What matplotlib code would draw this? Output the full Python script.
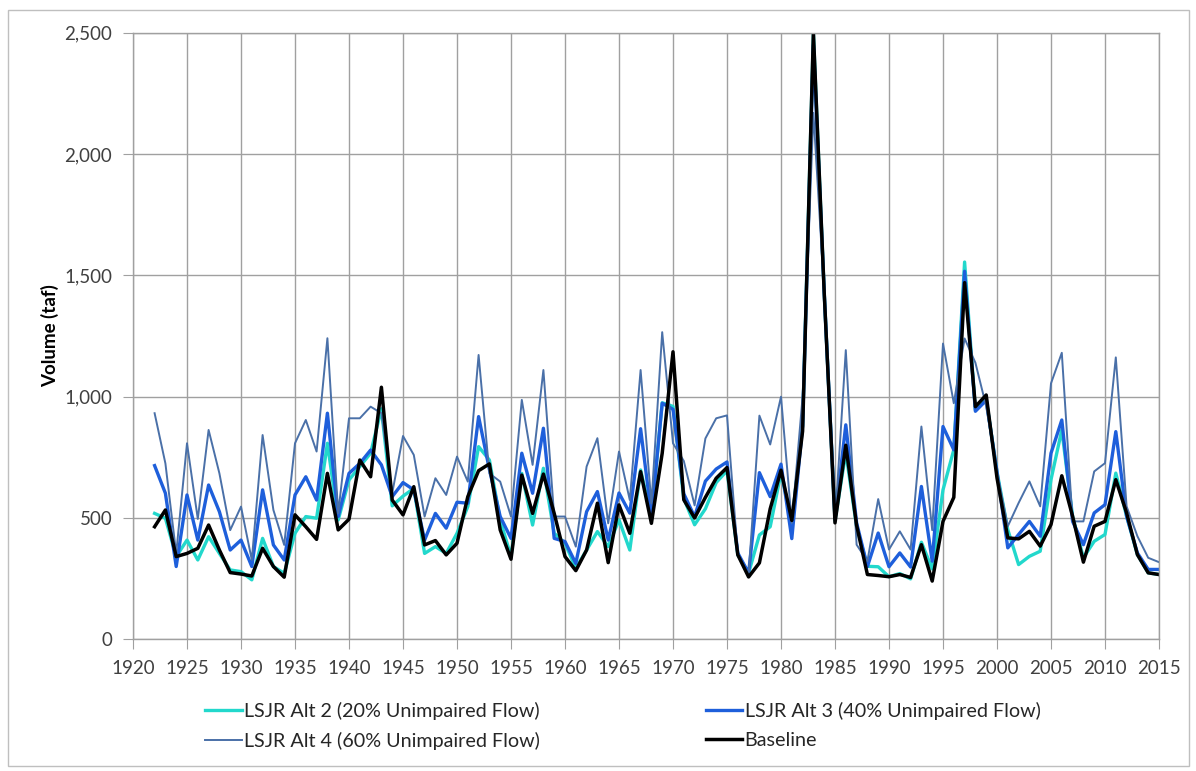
import matplotlib
matplotlib.use("Agg")
import matplotlib.pyplot as plt
from matplotlib.patches import Rectangle
from matplotlib.ticker import FuncFormatter

plt.rcParams['font.family'] = ['Lato', 'DejaVu Sans']

# water years 1922-2015
years = list(range(1922, 2016))

# volumes (taf)
alt2 = [519, 499, 341, 409, 327, 423, 354, 286, 279, 245,
        416, 300, 272, 437, 506, 499, 808, 492, 657, 712,
        767, 950, 550, 590, 622, 354, 382, 354, 437, 547,
        794, 739, 492, 341, 684, 471, 705, 437, 396, 293,
        368, 444, 382, 492, 368, 698, 506, 975, 960, 580,
        472, 538, 646, 695, 348, 273, 430, 464, 687, 480,
        880, 2500, 1430, 489, 770, 464, 301, 299, 258, 271,
        249, 400, 290, 616, 781, 1555, 945, 990, 690, 452,
        308, 342, 363, 658, 863, 507, 336, 404, 432, 685,
        507, 349, 274, 267]

alt3 = [716, 602, 300, 595, 409, 636, 526, 368, 409, 300,
        616, 389, 327, 595, 670, 574, 932, 506, 684, 725,
        780, 719, 588, 646, 616, 409, 519, 458, 565, 561,
        918, 700, 506, 416, 767, 602, 870, 416, 403, 313,
        526, 609, 409, 603, 520, 868, 510, 973, 948, 600,
        505, 652, 702, 731, 356, 273, 687, 588, 722, 415,
        880, 2450, 1430, 497, 884, 480, 300, 438, 299, 356,
        298, 630, 322, 877, 781, 1517, 940, 985, 690, 377,
        432, 486, 425, 767, 904, 486, 390, 521, 555, 856,
        507, 356, 288, 288]

alt4 = [932, 725, 354, 808, 496, 863, 684, 450, 547, 327,
        842, 533, 389, 808, 904, 774, 1241, 519, 911, 911,
        959, 932, 602, 838, 760, 506, 664, 595, 753, 650,
        1172, 684, 650, 506, 987, 719, 1110, 506, 506, 382,
        712, 829, 478, 774, 574, 1110, 560, 1266, 808, 735,
        552, 828, 911, 923, 348, 265, 922, 803, 1000, 480,
        1000, 2170, 1430, 480, 1192, 390, 322, 578, 370, 445,
        370, 877, 450, 1219, 973, 1240, 1140, 960, 690, 466,
        562, 651, 548, 1055, 1181, 486, 486, 692, 726, 1162,
        548, 425, 336, 318]

baseline = [464, 533, 341, 354, 375, 471, 368, 275, 269, 261,
            375, 300, 256, 513, 464, 412, 684, 451, 495, 739,
            670, 1039, 574, 513, 629, 389, 407, 348, 396, 588,
            695, 723, 451, 330, 677, 519, 681, 519, 341, 283,
            368, 561, 316, 554, 437, 691, 478, 767, 1185, 575,
            500, 585, 664, 708, 348, 257, 315, 538, 697, 490,
            858, 2500, 1430, 480, 800, 470, 267, 263, 258, 267,
            255, 390, 240, 486, 585, 1470, 959, 1007, 665, 418,
            414, 445, 384, 473, 674, 507, 318, 466, 486, 658,
            521, 349, 274, 267]

labels = ["LSJR Alt 2 (20% Unimpaired Flow)",
          "LSJR Alt 3 (40% Unimpaired Flow)",
          "LSJR Alt 4 (60% Unimpaired Flow)",
          "Baseline"]

fig = plt.figure(figsize=(11.96, 7.71), dpi=100)
ax = fig.add_axes([133 / 1196, 1 - 639.3 / 771, (1159 - 133) / 1196, (639.3 - 32.8) / 771])

# chart area border like the spreadsheet export
fig.patches.append(Rectangle((8 / 1196, 1 - 766 / 771), 1181 / 1196, 756 / 771,
                             transform=fig.transFigure, fill=False,
                             edgecolor='#BFBFBF', lw=1))

l2, = ax.plot(years, alt2, color='#22D8CC', lw=2.4, label=labels[0])
l3, = ax.plot(years, alt3, color='#1E5FDB', lw=2.4, label=labels[1])
l4, = ax.plot(years, alt4, color='#4A70A8', lw=1.4, label=labels[2])
lb, = ax.plot(years, baseline, color='black', lw=2.5, label=labels[3])

ax.set_xlim(1920, 2015)
ax.set_ylim(0, 2500)
ax.set_xticks(range(1920, 2016, 5))
ax.set_yticks(range(0, 2501, 500))
ax.yaxis.set_major_formatter(FuncFormatter(lambda v, p: "{:,}".format(int(v))))

grid_c = '#A0A0A0'
ax.grid(True, color=grid_c, lw=1)
ax.set_axisbelow(True)
for s in ax.spines.values():
    s.set_color(grid_c)
    s.set_linewidth(1)
ax.tick_params(axis='both', direction='out', length=7, color=grid_c,
               labelsize=13.5, labelcolor='#404040')
ax.tick_params(axis='y', pad=8)
ax.tick_params(axis='x', pad=8)

ax.set_ylabel("Volume (taf)", fontsize=13.5, fontweight='bold', labelpad=4)

# legend: two columns, Alt 2 / Alt 4 on the left, Alt 3 / Baseline on the right
fig.legend([l2, l4, l3, lb], [labels[0], labels[2], labels[1], labels[3]],
           ncol=2, loc='center', bbox_to_anchor=(623 / 1196, 1 - 726 / 771),
           frameon=False, fontsize=14.2, handlelength=1.85, handletextpad=0.12,
           columnspacing=8.4, labelspacing=0.6, labelcolor='#262626')

fig.savefig("out.png", dpi=100)
